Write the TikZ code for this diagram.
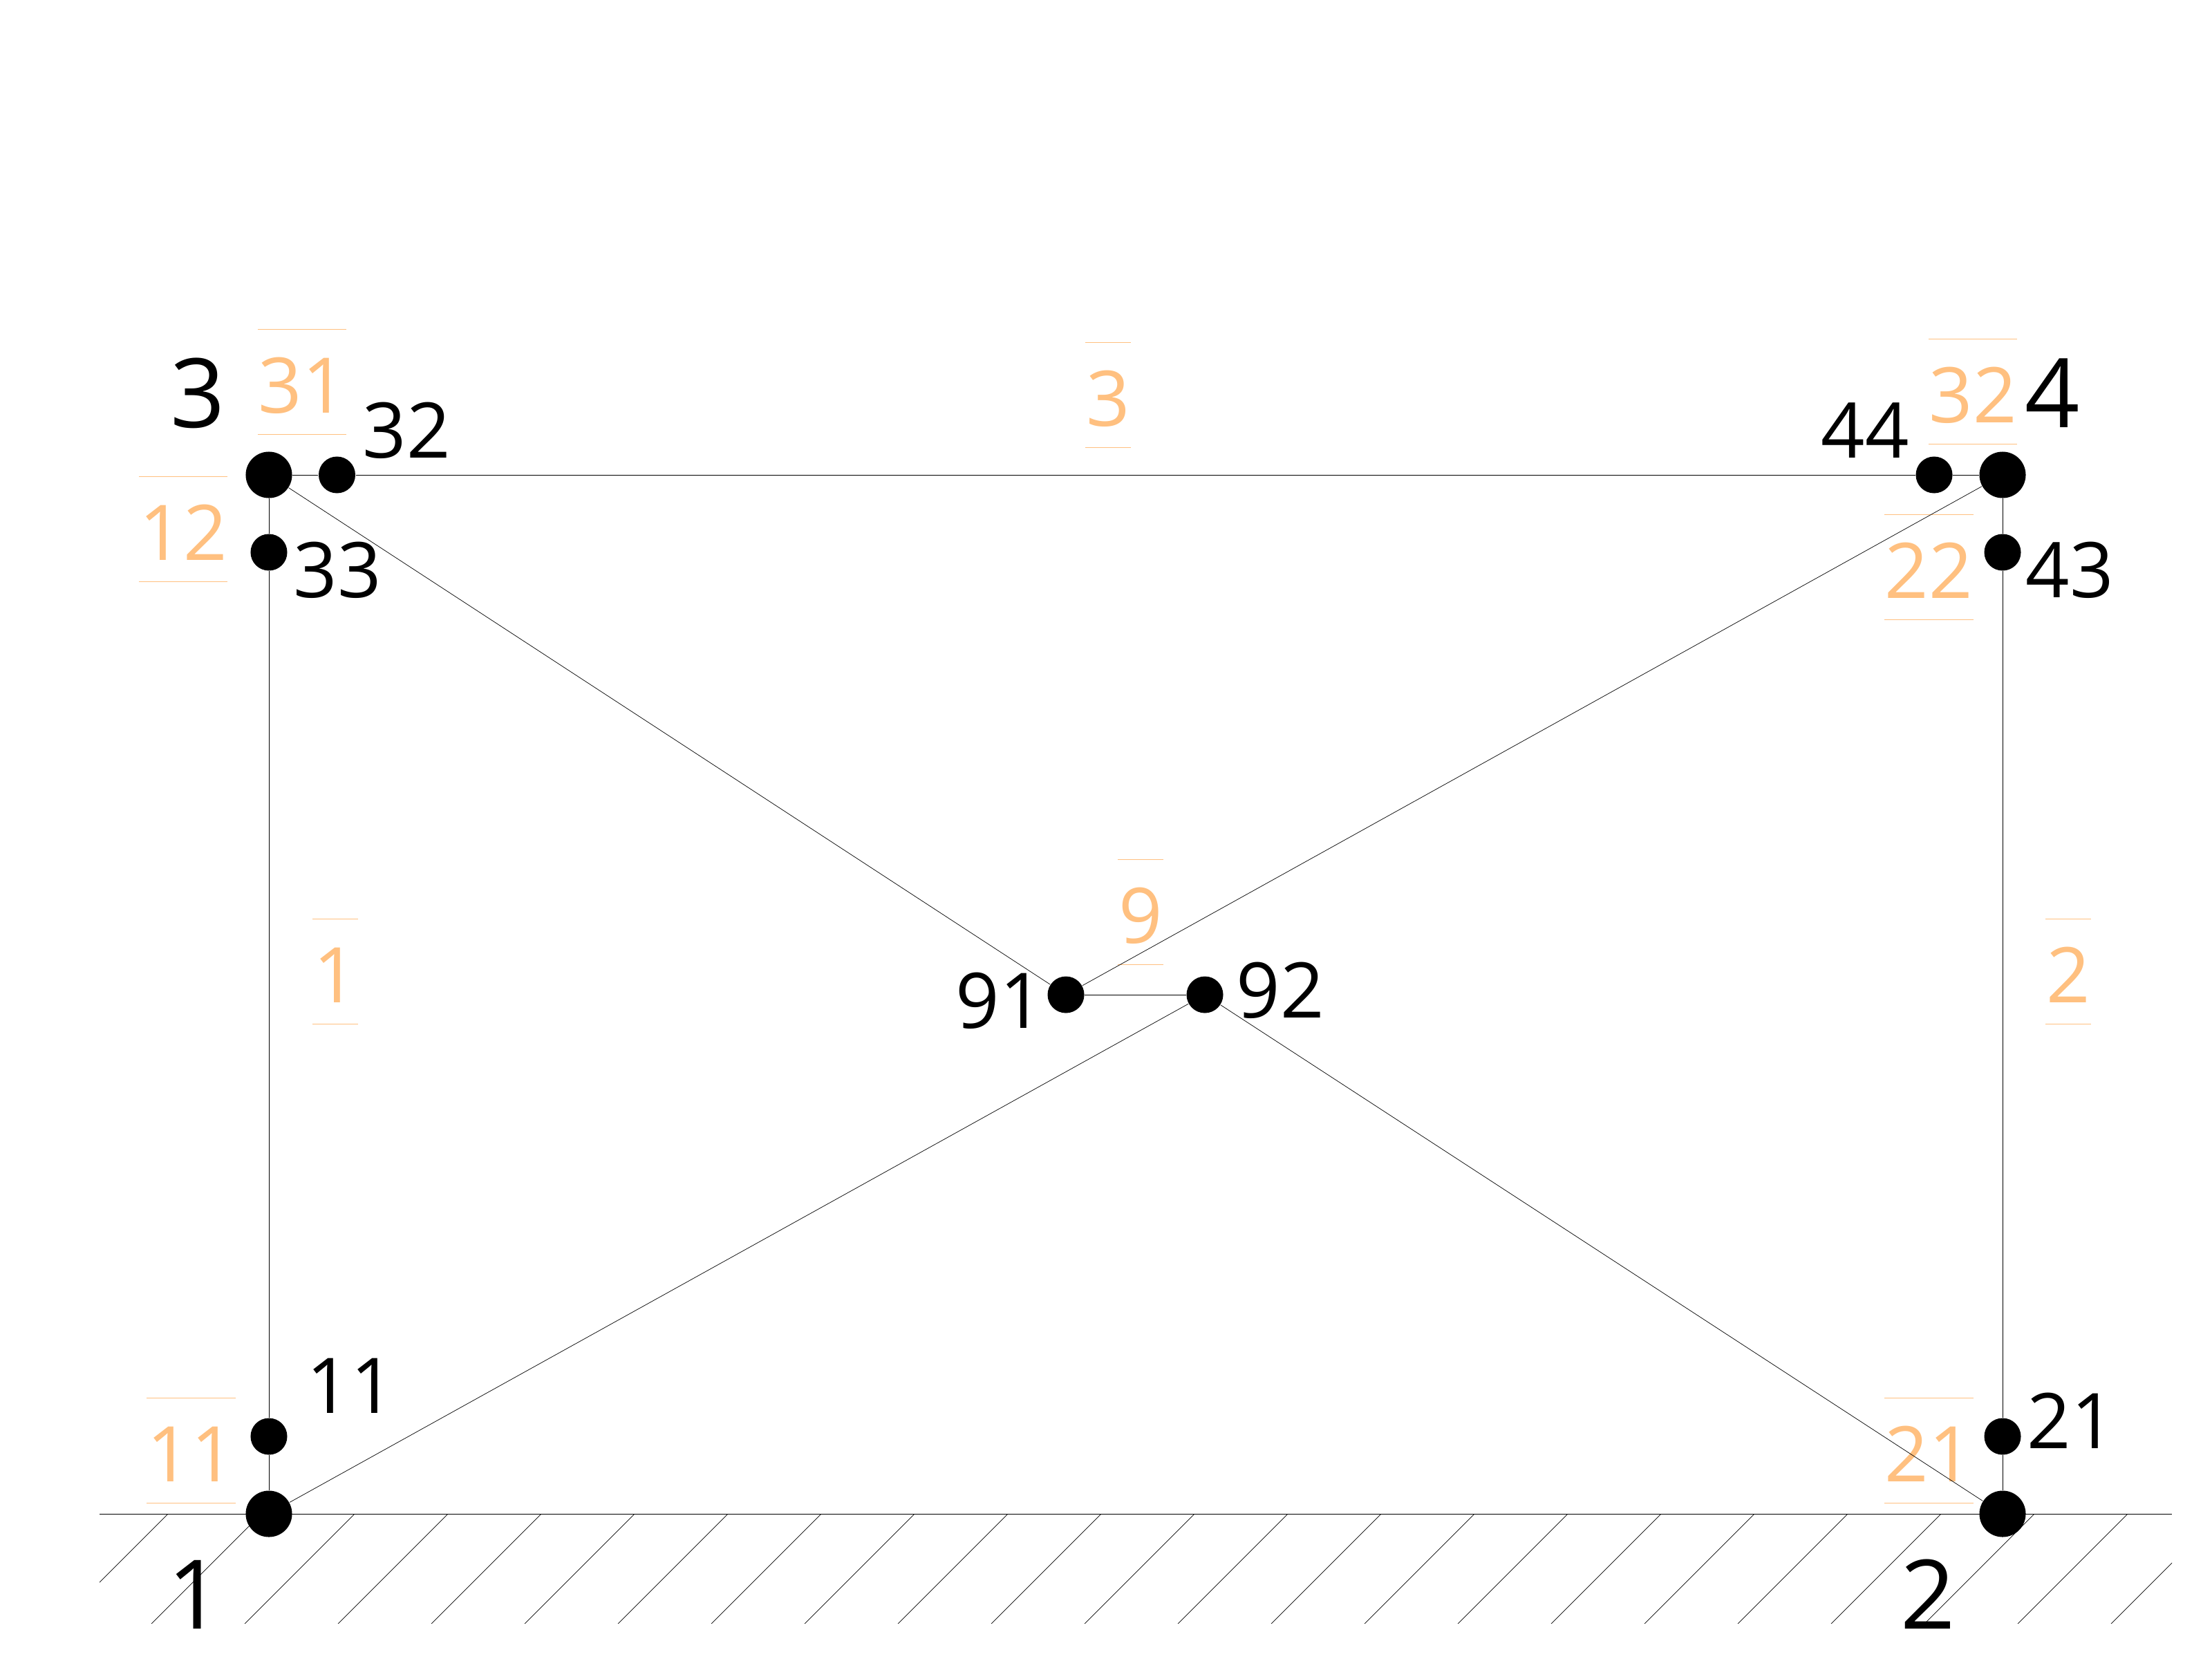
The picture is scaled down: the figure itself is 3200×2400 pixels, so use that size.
\documentclass[tikz,border=0pt]{standalone}
\usepackage{fontspec}
\usepackage{pgf,tikz}
\setmainfont{Open Sans}
\usetikzlibrary{shapes,positioning}
\definecolor{elemcolor}{HTML}{FFC080}
\tikzstyle{joint} = [circle, fill=black, inner sep=0pt, minimum size=0.67cm]
\tikzstyle{port} = [circle, fill=black, inner sep=0pt, minimum size=0.53cm]
\tikzstyle{jointname} = [inner sep=0pt, anchor=base, font=\fontsize{39.5}{48}\selectfont]
\tikzstyle{portname} = [inner sep=0pt, anchor=base, font=\fontsize{31.6}{38}\selectfont]
\tikzstyle{elemrule} = [draw=elemcolor, line width=0.3pt]
\tikzstyle{elemname} = [inner sep=0pt, anchor=base, text=elemcolor, text height=1.2cm, text depth=0.31cm, minimum width=0.64cm, font=\fontsize{31.6}{38}\selectfont, append after command={(\tikzlastnode.north west) edge[elemrule] (\tikzlastnode.north east) (\tikzlastnode.south west) edge[elemrule] (\tikzlastnode.south east)}]
\tikzstyle{bar} = [line width=0.2pt]

\begin{document}
\begin{tikzpicture}[x=0.01cm,y=-0.01cm]
	\useasboundingbox (0,0) rectangle (3200,2400);
	\begin{scope}
		\clip (144,2190) rectangle (3142,2348);
		\foreach \k in {0,...,22}
			\draw[bar] ({243+135*\k},2190) -- ++(-160,160);
	\end{scope}
	\coordinate (groundleft) at (144,2190);
	\coordinate (groundright) at (3142,2190);
	\draw[bar] (groundleft) -- (groundright);

	\node[elemname] (e31) at (437,597) {31};
	\node[elemname] (e12) at (265,810) {12};
	\node[elemname] (e11) at (276.5,2143) {11};
	\node[elemname] (e21) at (2790.5,2143) {21};
	\node[elemname] (e32) at (2854,611) {32};
	\node[elemname] (e22) at (2790.5,865) {22};
	\node[elemname] (e9) at (1650,1364) {9};
	\node[elemname] (e3) at (1603,616) {3};
	\node[elemname] (e1) at (485,1450) {1};
	\node[elemname] (e2) at (2992,1450) {2};

	\node[joint] (n1) at (389,2190) {};
	\node[joint] (n2) at (2897,2190) {};
	\node[joint] (n3) at (389,687) {};
	\node[joint] (n4) at (2897,687) {};
	\node[port] (p11) at (389,2078) {};
	\node[port] (p21) at (2897,2078) {};
	\node[port] (p32) at (487.5,687) {};
	\node[port] (p33) at (389,799) {};
	\node[port] (p43) at (2897,799) {};
	\node[port] (p44) at (2798,687) {};
	\node[port] (p91) at (1542,1439) {};
	\node[port] (p92) at (1743,1439) {};

	\draw[bar] (n1) -- (p11) -- (p33) -- (n3);
	\draw[bar] (n2) -- (p21) -- (p43) -- (n4);
	\draw[bar] (n3) -- (p32) -- (p44) -- (n4);
	\draw[bar] (p91) -- (p92);
	\draw[bar] (n3) -- (p91);
	\draw[bar] (n4) -- (p91);
	\draw[bar] (n1) -- (p92);
	\draw[bar] (n2) -- (p92);

	\node[jointname] (t1) at (282,2356) {1};
	\node[jointname] (t2) at (2789,2356) {2};
	\node[jointname] (t3) at (286,618) {3};
	\node[jointname] (t4) at (2969,618) {4};
	\node[portname] (t11) at (507,2044) {11};
	\node[portname] (t21) at (2996,2095) {21};
	\node[portname] (t32) at (588,662) {32};
	\node[portname] (t33) at (488,864) {33};
	\node[portname] (t43) at (2994,864) {43};
	\node[portname] (t44) at (2698,662) {44};
	\node[portname] (t91) at (1446,1487) {91};
	\node[portname] (t92) at (1852,1472) {92};
\end{tikzpicture}
\end{document}
